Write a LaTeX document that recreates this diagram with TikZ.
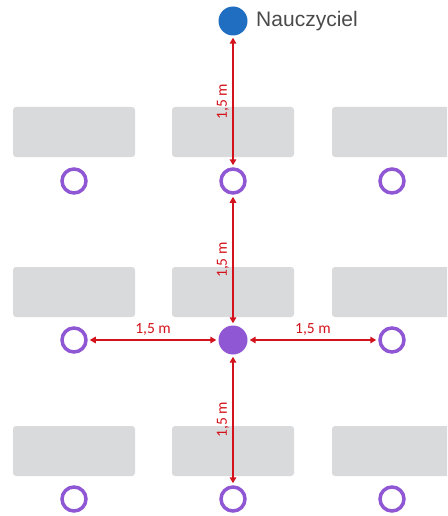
\documentclass[tikz,border=0pt]{standalone}
\usepackage{fontspec}
\setmainfont{Liberation Sans}
\newfontfamily\distfont{Carlito}
\usetikzlibrary{arrows.meta,calc,positioning}

\definecolor{deskgray}{HTML}{D9DADC}
\definecolor{seatpurple}{HTML}{9057D4}
\definecolor{teachblue}{HTML}{1F6EC2}
\definecolor{distred}{HTML}{D3121B}
\definecolor{textgray}{HTML}{4A4A4A}

\begin{document}
\begin{tikzpicture}[x=1pt,y=-1pt,
  desk/.style={fill=deskgray,rounded corners=3pt},
  seat/.style={circle,draw=seatpurple,line width=3.5pt,minimum size=24pt,inner sep=0pt},
  pupil/.style={circle,fill=seatpurple,minimum size=29pt,inner sep=0pt},
  teacher/.style={circle,fill=teachblue,minimum size=29pt,inner sep=0pt},
  dist/.style={draw=distred,line width=2.2pt,{Triangle[length=6pt,width=6.5pt]}-{Triangle[length=6pt,width=6.5pt]},shorten <=2pt,shorten >=2pt},
  distlabel/.style={text=distred,font=\distfont\fontsize{15.5}{17}\selectfont,inner sep=3pt}]
\useasboundingbox (0,0) rectangle (447,516);

% desks
\begin{scope}
\clip (0,0) rectangle (447,516);
\foreach \y in {107,267,426}
  \foreach \x in {13,172,332}
    \fill[desk] (\x,\y) rectangle ++(122,50);
\end{scope}

% seats
\foreach \n/\x/\y in {a/74/181,b/233/181,c/392/181,
                      d/74/340,f/392/340,
                      g/74/499,h/233/499,i/392/499}
  \node[seat] (\n) at (\x,\y) {};
\node[pupil] (e) at (233,340) {};

\node[teacher] (teacher) at (233,21) {};
\node[right=5pt of teacher,text=textgray,font=\fontsize{21}{24}\selectfont] (tlabel) {Nauczyciel};

% distances
\draw[dist] (teacher) -- (b) node[distlabel,midway,anchor=south,rotate=90] {1,5 m};
\draw[dist] (b) -- (e) node[distlabel,midway,anchor=south,rotate=90] {1,5 m};
\draw[dist] (e) -- (h) node[distlabel,midway,anchor=south,rotate=90] {1,5 m};
\draw[dist] (d) -- (e) node[distlabel,midway,anchor=south] {1,5 m};
\draw[dist] (e) -- (f) node[distlabel,midway,anchor=south] {1,5 m};
\end{tikzpicture}
\end{document}
